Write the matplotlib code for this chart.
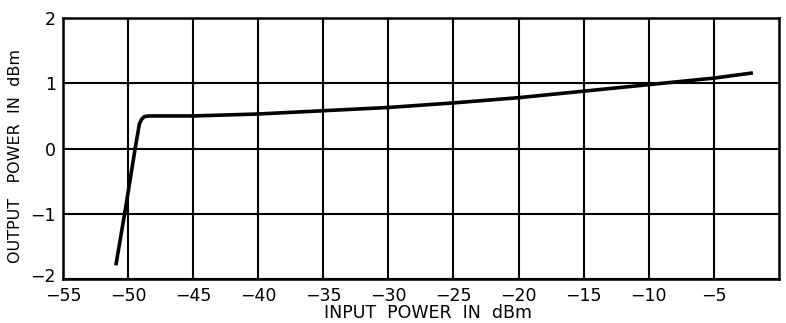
import matplotlib
matplotlib.use("Agg")
import matplotlib.pyplot as plt
import matplotlib.transforms as mtransforms

input_dbm = [-50.93, -50.2, -49.45, -49.12, -48.95, -48.75, -48.4, -47.0, -45.0, -40.0, -35.0, -30.0, -25.0, -20.0, -15.0, -10.0, -5.0, -2.0]
output_dbm = [-1.79, -0.93, 0.0, 0.38, 0.45, 0.49, 0.50, 0.50, 0.50, 0.53, 0.58, 0.63, 0.70, 0.78, 0.88, 0.98, 1.08, 1.16]

x_ticks = [-55, -50, -45, -40, -35, -30, -25, -20, -15, -10, -5]
y_ticks = [-2, -1, 0, 1, 2]

fig = plt.figure(figsize=(7.86, 3.23), dpi=100)
ax = fig.add_axes([0.080, 0.136, 0.911, 0.808])
ax.plot(input_dbm, output_dbm, color="black", lw=2.6, solid_capstyle="butt", solid_joinstyle="round")
ax.set_xlim(-55, 0)
ax.set_ylim(-2, 2)
ax.set_xticks(x_ticks)
ax.set_yticks(y_ticks)
ax.set_xticklabels([str(t).replace("-", "\u2212") for t in x_ticks])
ax.set_yticklabels([str(t).replace("-", "\u2212") for t in y_ticks])
ax.grid(True, color="black", lw=1.5)
for s in ax.spines.values():
    s.set_linewidth(1.8)
ax.tick_params(length=0, labelsize=12.5, pad=5)
ax.tick_params(axis="x", pad=6)
ax.set_xlabel("INPUT  POWER  IN  dBm", fontsize=12.5)
ax.xaxis.set_label_coords(0.51, -0.095)
ax.set_ylabel("OUTPUT   POWER  IN  dBm", fontsize=11.5)
ax.yaxis.set_label_coords(-0.055, 0.47)

# nudge lowest y tick label up slightly, as in the reference
fig.canvas.draw()
lbl = ax.get_yticklabels()[0]
lbl.set_transform(lbl.get_transform() + mtransforms.ScaledTranslation(0, 4 / 100, fig.dpi_scale_trans))
fig.savefig("out.png", dpi=100)
